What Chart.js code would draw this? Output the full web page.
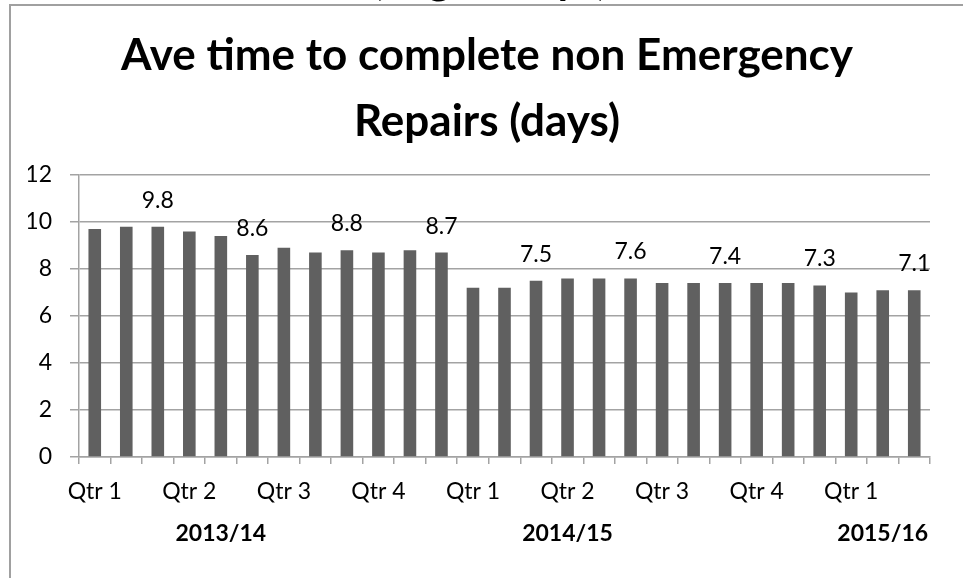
<!DOCTYPE html>
<html>
<head>
<meta charset="utf-8">
<script src="https://cdn.jsdelivr.net/npm/chart.js@4"></script>
<style>
  html, body { margin: 0; padding: 0; background: #fff; }
  #wrap { position: relative; width: 963px; height: 578px; }
</style>
</head>
<body>
<div id="wrap"><canvas id="repairs-chart"></canvas></div>
<script>
// one bar per month, grouped by quarter and financial year
const monthQuarters = [
  "Qtr 1", "Qtr 1", "Qtr 1", "Qtr 2", "Qtr 2", "Qtr 2", "Qtr 3", "Qtr 3", "Qtr 3", "Qtr 4", "Qtr 4", "Qtr 4",
  "Qtr 1", "Qtr 1", "Qtr 1", "Qtr 2", "Qtr 2", "Qtr 2", "Qtr 3", "Qtr 3", "Qtr 3", "Qtr 4", "Qtr 4", "Qtr 4",
  "Qtr 1", "Qtr 1", "Qtr 1",
];
const monthYears = [
  "2013/14", "2013/14", "2013/14", "2013/14", "2013/14", "2013/14", "2013/14", "2013/14", "2013/14", "2013/14", "2013/14", "2013/14",
  "2014/15", "2014/15", "2014/15", "2014/15", "2014/15", "2014/15", "2014/15", "2014/15", "2014/15", "2014/15", "2014/15", "2014/15",
  "2015/16", "2015/16", "2015/16",
];
const avgDays = [
  9.7, 9.8, 9.8, 9.6, 9.4, 8.6, 8.9, 8.7, 8.8, 8.7, 8.8, 8.7,
  7.2, 7.2, 7.5, 7.6, 7.6, 7.6, 7.4, 7.4, 7.4, 7.4, 7.4, 7.3,
  7.0, 7.1, 7.1,
];
// month under which each year caption sits
const yearCaptionIndex = [4, 15, 25];
const titleLines = ["Ave time to complete non Emergency", "Repairs (days)"];
const cutTitle = "(avg in days)";

const FONT = "Lato, 'Open Sans', sans-serif";
const GRID = "#a3a3a3";

// frame, cut-off heading above it, and the title
const framePlugin = {
  id: "frame",
  beforeDraw(chart) {
    const c = chart.ctx;
    c.save();
    c.fillStyle = "#fff";
    c.fillRect(0, 0, chart.width, chart.height);
    c.fillStyle = "#000";
    c.font = "bold 44px " + FONT;
    c.textAlign = "center";
    c.textBaseline = "alphabetic";
    c.fillText(cutTitle, 490, -6.5);
    c.strokeStyle = "#a0a0a0";
    c.lineWidth = 2;
    c.strokeRect(10, 5, chart.width + 20, chart.height + 20);
    c.fillText(titleLines[0], 487, 70);
    c.fillText(titleLines[1], 487, 136);
    c.restore();
  },
};

// value labels on the last month of each quarter
const valueLabels = {
  id: "valueLabels",
  afterDatasetsDraw(chart) {
    const c = chart.ctx;
    const meta = chart.getDatasetMeta(0);
    c.save();
    c.fillStyle = "#000";
    c.font = "23px " + FONT;
    c.textAlign = "center";
    c.textBaseline = "alphabetic";
    meta.data.forEach((bar, i) => {
      if (i % 3 !== 2) return;
      c.fillText(avgDays[i].toFixed(1), bar.x, bar.y - 19);
    });
    c.restore();
  },
};

new Chart(document.getElementById("repairs-chart"), {
  type: "bar",
  data: {
    labels: monthQuarters,
    datasets: [
      {
        data: avgDays,
        backgroundColor: "#606060",
        barPercentage: 0.4,
        categoryPercentage: 1,
      },
    ],
  },
  options: {
    responsive: true,
    maintainAspectRatio: false,
    animation: false,
    layout: { padding: { top: 175, left: 28, right: 33, bottom: 19 } },
    plugins: {
      legend: { display: false },
      title: { display: false },
      tooltip: { enabled: false },
    },
    scales: {
      x: {
        weight: 0,
        offset: true,
        afterFit: (s) => { s.height = 47; },
        grid: { display: true, drawOnChartArea: false, offset: true, tickLength: 7, color: GRID, lineWidth: 1.5 },
        border: { color: GRID, width: 1.5 },
        ticks: {
          color: "#000",
          font: { family: FONT, size: 23 },
          padding: 14,
          autoSkip: false,
          maxRotation: 0,
          callback: (v, i) => (i % 3 === 0 ? monthQuarters[i] : ""),
        },
      },
      x2: {
        type: "category",
        labels: monthYears,
        position: "bottom",
        weight: 1,
        offset: true,
        afterFit: (s) => { s.height = 55; },
        grid: { display: false },
        border: { display: false },
        ticks: {
          color: "#000",
          font: { family: FONT, size: 23, weight: "bold" },
          padding: 8,
          autoSkip: false,
          maxRotation: 0,
          callback: (v, i) => (yearCaptionIndex.includes(i) ? monthYears[i] : ""),
        },
      },
      y: {
        min: 0,
        max: 12,
        afterFit: (s) => { s.width = 51; },
        ticks: { stepSize: 2, color: "#000", font: { family: FONT, size: 23 }, padding: 18 },
        grid: { color: GRID, lineWidth: 1.5, tickLength: 9 },
        border: { color: GRID, width: 1.5 },
      },
    },
  },
  plugins: [framePlugin, valueLabels],
});
</script>
</body>
</html>
